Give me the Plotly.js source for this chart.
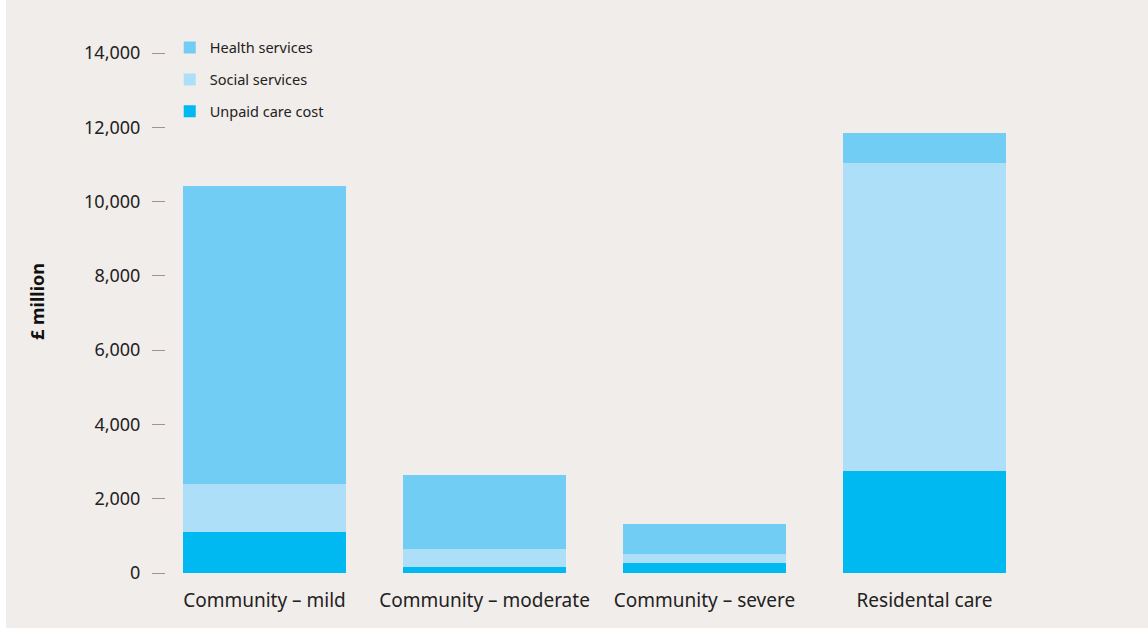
<!DOCTYPE html>
<html>
<head>
<meta charset="utf-8">
<script src="https://cdn.plot.ly/plotly-3.0.1.min.js"></script>
<style>html,body{margin:0;padding:0;background:#fff;}#chart{width:1148px;height:628px;}</style>
</head>
<body>
<div id="chart"></div>
<script>
const categories = ["Community – mild", "Community – moderate", "Community – severe", "Residental care"];
const unpaidCare = [1100, 160, 270, 2750];
const socialServices = [1300, 486, 240, 8290];
const healthServices = [8020, 1994, 810, 805];
const yTickValues = [0, 2000, 4000, 6000, 8000, 10000, 12000, 14000];
const yTickLabels = ["0", "2,000", "4,000", "6,000", "8,000", "10,000", "12,000", "14,000"];

const FONT = "Noto Sans, Open Sans, sans-serif";

const traces = [
  {type: "bar", name: "Unpaid care cost", x: categories, y: unpaidCare, marker: {color: "#00b9f0"}, legendgroup: "u", legendrank: 3, hoverinfo: "y+name"},
  {type: "bar", name: "Social services", x: categories, y: socialServices, marker: {color: "#addff9"}, legendgroup: "s", legendrank: 2, hoverinfo: "y+name"},
  {type: "bar", name: "Health services", x: categories, y: healthServices, marker: {color: "#72cdf5"}, legendgroup: "h", legendrank: 1, hoverinfo: "y+name"}
];

const L = 166, R = 1100, T = 30, B = 573;
const layout = {
  width: 1148, height: 628,
  margin: {l: L, r: 1148 - R, t: T, b: 628 - B, pad: 0},
  paper_bgcolor: "#f1edea",
  plot_bgcolor: "rgba(0,0,0,0)",
  barmode: "stack",
  bargap: 0.26,
  font: {family: FONT, color: "#222", size: 17},
  showlegend: true,
  legend: {
    x: 0.004, y: 0.997, xanchor: "left", yanchor: "top",
    bgcolor: "rgba(0,0,0,0)",
    font: {family: FONT, size: 14.5, color: "#222"},
    traceorder: "grouped",
    tracegroupgap: 10,
    itemwidth: 30
  },
  xaxis: {
    type: "category",
    range: [(L - 264.5) / 220, (R - 264.5) / 220],
    showgrid: false, zeroline: false, showline: false,
    ticks: "", tickfont: {family: FONT, size: 19, color: "#222"},
    ticklabelstandoff: 14,
    fixedrange: true
  },
  yaxis: {
    range: [0, (B - T) * 14000 / 520],
    tickvals: yTickValues, ticktext: yTickLabels,
    showgrid: false, zeroline: false, showline: false,
    ticks: "outside", ticklen: 13, tickwidth: 1, tickcolor: "#a88f8f",
    ticklabelstandoff: 8,
    tickfont: {family: FONT, size: 18, color: "#222"},
    title: {text: "<b>£ million</b>", font: {family: FONT, size: 18, color: "#111"}, standoff: 34},
    fixedrange: true
  },
  shapes: [
    {type: "rect", xref: "paper", yref: "paper", x0: (0 - L) / (R - L), x1: (6 - L) / (R - L), y0: -0.2, y1: 1.2, fillcolor: "#ffffff", line: {width: 0}, layer: "below"}
  ]
};

Plotly.newPlot("chart", traces, layout, {displayModeBar: false, staticPlot: true});
</script>
</body>
</html>
